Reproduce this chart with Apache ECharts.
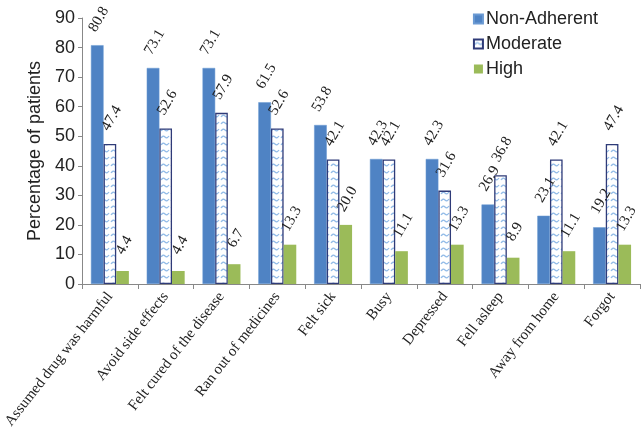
<!DOCTYPE html>
<html>
<head>
<meta charset="utf-8">
<script src="https://cdn.jsdelivr.net/npm/echarts@6/dist/echarts.min.js"></script>
<style>
  html, body { margin: 0; padding: 0; background: #fff; }
  #chart { width: 641px; height: 427px; }
</style>
</head>
<body>
<div id="chart"></div>
<script>
// reasons for non-adherence
const categories = ['Assumed drug was harmful', 'Avoid side effects', 'Felt cured of the disease',
    'Ran out of medicines', 'Felt sick', 'Busy', 'Depressed', 'Fell asleep', 'Away from home', 'Forgot']
const nonAdherent = [80.8, 73.1, 73.1, 61.5, 53.8, 42.3, 42.3, 26.9, 23.1, 19.2]
const moderate = [47.4, 52.6, 57.9, 52.6, 42.1, 42.1, 31.6, 36.8, 42.1, 47.4]
const high = [4.4, 4.4, 6.7, 13.3, 20.0, 11.1, 13.3, 8.9, 11.1, 13.3]

// hatched fill for Moderate bars
function makePattern() {
    const c = document.createElement('canvas')
    c.width = 10
    c.height = 7
    const ctx = c.getContext('2d')
    ctx.fillStyle = '#fff'
    ctx.fillRect(0, 0, 10, 7)
    ctx.strokeStyle = '#93bce8'
    ctx.lineWidth = 1.3
    ctx.beginPath()
    ctx.moveTo(1, 5)
    ctx.quadraticCurveTo(3, 2, 5, 4)
    ctx.quadraticCurveTo(7, 6, 9, 3)
    ctx.stroke()
    return c
}

// labels centred above each bar, turned 60 degrees
// (offset is in the rotated frame)
const labelStyle = {
    show: true,
    position: 'top',
    distance: 21,
    rotate: 60,
    align: 'center',
    verticalAlign: 'middle',
    offset: [5, -1],
    fontFamily: 'Liberation Serif',
    fontSize: 15,
    color: '#222',
    formatter: p => p.value.toFixed(1)
}

const chart = echarts.init(document.getElementById('chart'))
chart.setOption({
    animation: false,
    legend: {
        orient: 'vertical',
        right: 38,
        top: 5,
        icon: 'rect',
        itemWidth: 9,
        itemHeight: 9,
        itemGap: 7,
        textStyle: { fontFamily: 'Liberation Sans', fontSize: 18, color: '#222', padding: [0, 0, 0, -2] },
        data: ['Non-Adherent', 'Moderate', 'High']
    },
    grid: { left: 82, right: 1, top: 18, bottom: 143, outerBoundsMode: 'none' },
    xAxis: {
        type: 'category',
        data: categories,
        axisLine: { lineStyle: { color: '#888' } },
        axisTick: { show: true, length: 5, lineStyle: { color: '#888' } },
        axisLabel: {
            interval: 0,
            rotate: 52,
            margin: 10,
            fontFamily: 'Liberation Serif',
            fontSize: 15,
            color: '#222'
        }
    },
    yAxis: {
        type: 'value',
        min: 0,
        max: 90,
        interval: 10,
        name: 'Percentage of patients',
        nameLocation: 'middle',
        nameGap: 34,
        nameTextStyle: { fontFamily: 'Liberation Sans', fontSize: 18, color: '#222' },
        axisLine: { show: true, lineStyle: { color: '#888' } },
        axisTick: { show: true, length: 4, lineStyle: { color: '#888' } },
        axisLabel: { fontFamily: 'Liberation Sans', fontSize: 18, color: '#222', margin: 7 },
        splitLine: { show: false }
    },
    series: [{
        name: 'Non-Adherent',
        type: 'bar',
        data: nonAdherent,
        barGap: '0%',
        barCategoryGap: '32%',
        itemStyle: { color: '#4f83c4', borderColor: '#6b9ad3', borderWidth: 0.5 },
        label: labelStyle
    }, {
        name: 'Moderate',
        type: 'bar',
        data: moderate,
        itemStyle: {
            color: { image: makePattern(), repeat: 'repeat' },
            borderColor: '#2f3b78',
            borderWidth: 1.3
        },
        label: labelStyle
    }, {
        name: 'High',
        type: 'bar',
        data: high,
        itemStyle: { color: '#9bbb59' },
        label: labelStyle
    }]
})
</script>
</body>
</html>
